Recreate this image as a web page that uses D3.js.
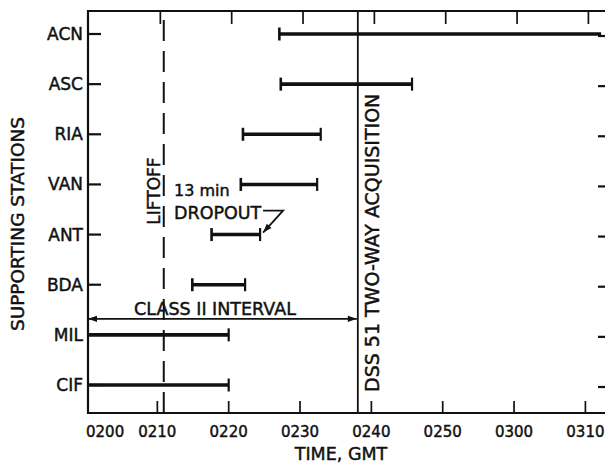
<!DOCTYPE html>
<html>
<head>
<meta charset="utf-8">
<script src="https://cdn.jsdelivr.net/npm/d3@7/dist/d3.min.js"></script>
<style>
  html, body { margin: 0; padding: 0; background: #fff; }
  svg { display: block; }
  text { font-family: "DejaVu Sans", sans-serif; fill: #111; stroke: #111; stroke-width: 0.45px; }
</style>
</head>
<body>
<svg id="chart" width="605" height="476"></svg>
<script>
// Tracking stations, top to bottom
const stations = ["ACN", "ASC", "RIA", "VAN", "ANT", "BDA", "MIL", "CIF"];
// Coverage start / end, minutes after 0200 GMT
const coverStart = [27.1, 27.3, 22.0, 21.7, 17.6, 14.9, 0, 0];
const coverEnd   = [72.2, 45.7, 32.9, 32.4, 24.4, 22.3, 20.0, 20.0];
// Time axis ticks
const tickMinutes = [0, 10, 20, 30, 40, 50, 60, 70];
const tickLabels  = ["0200", "0210", "0220", "0230", "0240", "0250", "0300", "0310"];
// Events
const liftoffMin = 10.9;
const dssAcqMin = 38.1;
const dropoutStation = "ANT";

const svg = d3.select("#chart");
const X0 = 86, X1 = 601.1, Y0 = 11, Y1 = 413;
const xMax = 72.2;

const x = d3.scaleLinear().domain([0, xMax]).range([X0, X1]);
const y = d3.scalePoint().domain(stations).range([34, 385]);

const ink = "#111";

// frame: left, top, bottom
svg.append("line").attr("x1", X0 + 2).attr("x2", X0 + 2).attr("y1", Y0 - 1).attr("y2", Y1 + 1)
  .attr("stroke", ink).attr("stroke-width", 2.2);
svg.append("line").attr("x1", X0 + 1).attr("x2", 605).attr("y1", Y0).attr("y2", Y0)
  .attr("stroke", ink).attr("stroke-width", 2.2);
svg.append("line").attr("x1", X0 + 1).attr("x2", 605).attr("y1", Y1).attr("y2", Y1)
  .attr("stroke", ink).attr("stroke-width", 2.2);

// time ticks (inward on bottom and top) and labels
const inner = tickMinutes.filter(m => m > 0);
svg.selectAll(".bt").data(inner).join("line")
  .attr("x1", d => x(d)).attr("x2", d => x(d)).attr("y1", Y1).attr("y2", Y1 - 12)
  .attr("stroke", ink).attr("stroke-width", 1.7);
svg.selectAll(".tt").data(inner).join("line")
  .attr("x1", d => x(d) + 3).attr("x2", d => x(d) + 3).attr("y1", Y0).attr("y2", Y0 + 13)
  .attr("stroke", ink).attr("stroke-width", 1.7);
svg.selectAll(".xl").data(tickMinutes).join("text")
  .attr("x", d => x(d))
  .attr("y", 437)
  .attr("text-anchor", (d, i) => i === 0 ? "start" : "middle")
  .attr("font-size", 15)
  .text((d, i) => tickLabels[i]);

svg.append("text").attr("x", 341).attr("y", 460).attr("text-anchor", "middle")
  .attr("font-size", 17.5).text("TIME, GMT");

// left and right station ticks
svg.selectAll(".lt").data(stations).join("line")
  .attr("x1", X0 + 2).attr("x2", X0 + 15).attr("y1", d => y(d)).attr("y2", d => y(d))
  .attr("stroke", ink).attr("stroke-width", 2.2);
svg.selectAll(".rt").data(stations).join("line")
  .attr("x1", 598).attr("x2", 605).attr("y1", d => y(d) + 2).attr("y2", d => y(d) + 2)
  .attr("stroke", ink).attr("stroke-width", 2.2);
svg.selectAll(".sl").data(stations).join("text")
  .attr("x", 83).attr("y", d => y(d) + 6)
  .attr("text-anchor", "end").attr("font-size", 17)
  .text(d => d);

svg.append("text")
  .attr("transform", "translate(24,224) rotate(-90)")
  .attr("text-anchor", "middle").attr("font-size", 18.5)
  .text("SUPPORTING STATIONS");

// liftoff (dashed)
svg.append("line").attr("x1", x(liftoffMin)).attr("x2", x(liftoffMin))
  .attr("y1", 20).attr("y2", Y1)
  .attr("stroke", ink).attr("stroke-width", 2).attr("stroke-dasharray", "21,10");
svg.append("text")
  .attr("transform", `translate(${x(liftoffMin) - 4},191) rotate(-90)`)
  .attr("text-anchor", "middle").attr("font-size", 17)
  .text("LIFTOFF");

// DSS 51 two-way acquisition
svg.append("line").attr("x1", x(dssAcqMin)).attr("x2", x(dssAcqMin))
  .attr("y1", Y0 - 1).attr("y2", Y1)
  .attr("stroke", ink).attr("stroke-width", 1.8);
svg.append("text")
  .attr("transform", `translate(${x(dssAcqMin) + 21},392) rotate(-90)`)
  .attr("text-anchor", "start").attr("font-size", 19)
  .text("DSS 51 TWO-WAY ACQUISITION");

// coverage bars
const bars = stations.map((s, i) => ({ s, a: coverStart[i], b: coverEnd[i] }));
const g = svg.append("g");
g.selectAll(".bar").data(bars).join("line")
  .attr("x1", d => x(d.a) + (d.a === 0 ? 2 : 0)).attr("x2", d => x(d.b))
  .attr("y1", d => y(d.s)).attr("y2", d => y(d.s))
  .attr("stroke", ink).attr("stroke-width", 3.6);
g.selectAll(".capA").data(bars.filter(d => d.a > 0)).join("line")
  .attr("x1", d => x(d.a)).attr("x2", d => x(d.a))
  .attr("y1", d => y(d.s) - 6.5).attr("y2", d => y(d.s) + 6.5)
  .attr("stroke", ink).attr("stroke-width", 2.6);
g.selectAll(".capB").data(bars.filter(d => d.b < xMax)).join("line")
  .attr("x1", d => x(d.b)).attr("x2", d => x(d.b))
  .attr("y1", d => y(d.s) - 6.5).attr("y2", d => y(d.s) + 6.5)
  .attr("stroke", ink).attr("stroke-width", 2.2);

// arrowheads
const defs = svg.append("defs");
defs.append("marker").attr("id", "head").attr("viewBox", "0 0 10 10")
  .attr("refX", 10).attr("refY", 5).attr("markerWidth", 15).attr("markerHeight", 9)
  .attr("markerUnits", "userSpaceOnUse").attr("orient", "auto-start-reverse")
  .append("path").attr("d", "M0,1.5 L10,5 L0,8.5 Z").attr("fill", ink);

// class II interval
const cy = y("MIL") - 16;
svg.append("line").attr("x1", X0 + 2).attr("x2", x(dssAcqMin) - 1)
  .attr("y1", cy).attr("y2", cy)
  .attr("stroke", ink).attr("stroke-width", 1.8)
  .attr("marker-start", "url(#head)").attr("marker-end", "url(#head)");
svg.append("text").attr("x", 215).attr("y", cy - 4).attr("text-anchor", "middle")
  .attr("font-size", 17.5).text("CLASS II INTERVAL");

// dropout note
const dIdx = stations.indexOf(dropoutStation);
const ex = x(coverEnd[dIdx]), ey = y(dropoutStation);
svg.append("text").attr("x", 174).attr("y", 196).attr("font-size", 16).text("13 min");
svg.append("text").attr("x", 174).attr("y", 219).attr("font-size", 17.5).text("DROPOUT");
svg.append("path")
  .attr("d", `M${ex + 3},${ey - 24} L${ex + 23},${ey - 24} L${ex + 3},${ey - 2}`)
  .attr("fill", "none").attr("stroke", ink).attr("stroke-width", 1.8)
  .attr("marker-end", "url(#head)");
</script>
</body>
</html>
